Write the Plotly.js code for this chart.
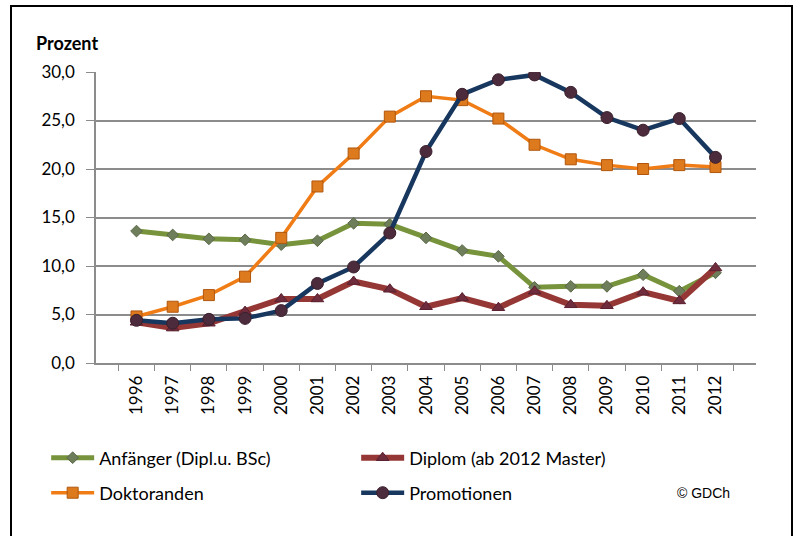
<!DOCTYPE html>
<html>
<head>
<meta charset="utf-8">
<script src="https://cdn.plot.ly/plotly-3.0.1.min.js"></script>
<style>
  body { margin: 0; background: #fff; }
  #plot { width: 796px; height: 536px; }
  #frame { position: absolute; left: 10px; top: 5px; width: 779px; height: 540px;
           border: 2px solid #000; pointer-events: none; }
</style>
</head>
<body>
<div id="plot"></div>
<div id="frame"></div>
<script>
// Jahre (Kategorien)
var years = ['1996', '1997', '1998', '1999', '2000', '2001', '2002', '2003', '2004',
             '2005', '2006', '2007', '2008', '2009', '2010', '2011', '2012'];

// Werte in Prozent
var anfaenger   = [13.6, 13.2, 12.8, 12.7, 12.2, 12.6, 14.4, 14.3, 12.9, 11.6, 11.0, 7.8, 7.9, 7.9, 9.1, 7.4, 9.3];
var diplom      = [4.2, 3.6, 4.1, 5.3, 6.6, 6.6, 8.4, 7.6, 5.8, 6.7, 5.7, 7.4, 6.0, 5.9, 7.3, 6.4, 9.8];
var doktoranden = [4.8, 5.8, 7.0, 8.9, 12.9, 18.2, 21.6, 25.4, 27.5, 27.1, 25.2, 22.5, 21.0, 20.4, 20.0, 20.4, 20.2];
var promotionen = [4.4, 4.1, 4.5, 4.6, 5.4, 8.2, 9.9, 13.4, 21.8, 27.7, 29.2, 29.7, 27.9, 25.3, 24.0, 25.2, 21.2];

var yTicks = [0, 5, 10, 15, 20, 25, 30];

var font = 'Lato, "Open Sans", sans-serif';

var trace1 =
{
  x: years,
  y: anfaenger,
  type: 'scatter',
  mode: 'lines+markers',
  name: 'Anfänger (Dipl.u. BSc)',
  legend: 'legend',
  line: { color: '#77933c', width: 5 },
  marker: { symbol: 'diamond', size: 9, color: '#6e7d5a', line: { color: '#5a6848', width: 1 } }
};

var trace2 =
{
  x: years,
  y: diplom,
  type: 'scatter',
  mode: 'lines+markers',
  name: 'Diplom (ab 2012 Master)',
  legend: 'legend',
  line: { color: '#953735', width: 6 },
  marker: { symbol: 'triangle-up', size: 11, color: '#6e2c3c', line: { color: '#5a2030', width: 1 } }
};

var trace3 =
{
  x: years,
  y: doktoranden,
  type: 'scatter',
  mode: 'lines+markers',
  name: 'Doktoranden',
  legend: 'legend2',
  line: { color: '#f07c16', width: 3.5 },
  marker: { symbol: 'square', size: 11, color: '#de7a1e', line: { color: '#b0560c', width: 1 } }
};

var trace4 =
{
  x: years,
  y: promotionen,
  type: 'scatter',
  mode: 'lines+markers',
  name: 'Promotionen',
  legend: 'legend2',
  line: { color: '#17375e', width: 4.5 },
  marker: { symbol: 'circle', size: 12, color: '#4b2b3c', line: { color: '#3a1f2c', width: 1 } }
};

var data = [trace1, trace2, trace3, trace4];

var legendStyle = function(y)
{
  return {
    orientation: 'h',
    xref: 'container', yref: 'container',
    x: 0.058, y: y,
    xanchor: 'left', yanchor: 'middle',
    entrywidth: 252,
    itemwidth: 43,
    font: { family: font, size: 18, color: '#000' },
    bgcolor: 'rgba(0,0,0,0)'
  };
};

var layout =
{
  width: 796,
  height: 536,
  margin: { l: 96, r: 40, t: 72, b: 173 },
  paper_bgcolor: '#fff',
  plot_bgcolor: '#fff',
  separators: ',.',
  font: { family: font, size: 17, color: '#000' },
  showlegend: true,
  legend: legendStyle(1 - 458 / 536),
  legend2: legendStyle(1 - 493 / 536),
  xaxis:
  {
    type: 'category',
    tickangle: -90,
    tickson: 'boundaries',
    ticks: 'outside',
    ticklen: 6,
    tickcolor: '#8c8c8c',
    ticklabelstandoff: 4,
    showgrid: false,
    showline: true,
    linecolor: '#8c8c8c',
    linewidth: 1.5,
    tickfont: { family: font, size: 17, color: '#000' }
  },
  yaxis:
  {
    range: [0, 30],
    tickvals: yTicks,
    tickformat: '.1f',
    ticks: 'outside',
    ticklen: 8,
    tickcolor: '#8c8c8c',
    ticklabelstandoff: 8,
    showgrid: true,
    gridcolor: '#8c8c8c',
    gridwidth: 1.5,
    showline: true,
    linecolor: '#8c8c8c',
    linewidth: 1.5,
    zeroline: false,
    tickfont: { family: font, size: 17, color: '#000' }
  },
  annotations:
  [
    {
      text: '<b>Prozent</b>', xref: 'paper', yref: 'paper',
      x: -0.094, y: 1.1, xanchor: 'left', yanchor: 'middle',
      showarrow: false, font: { family: font, size: 18, color: '#000' }
    },
    {
      text: '© GDCh', xref: 'paper', yref: 'paper',
      x: (675 - 96) / 660, y: (363 - 493) / 291, xanchor: 'left', yanchor: 'middle',
      showarrow: false, font: { family: 'Liberation Sans, Arial, sans-serif', size: 14, color: '#000' }
    }
  ]
};

Plotly.newPlot('plot', data, layout, { displayModeBar: false });
</script>
</body>
</html>
